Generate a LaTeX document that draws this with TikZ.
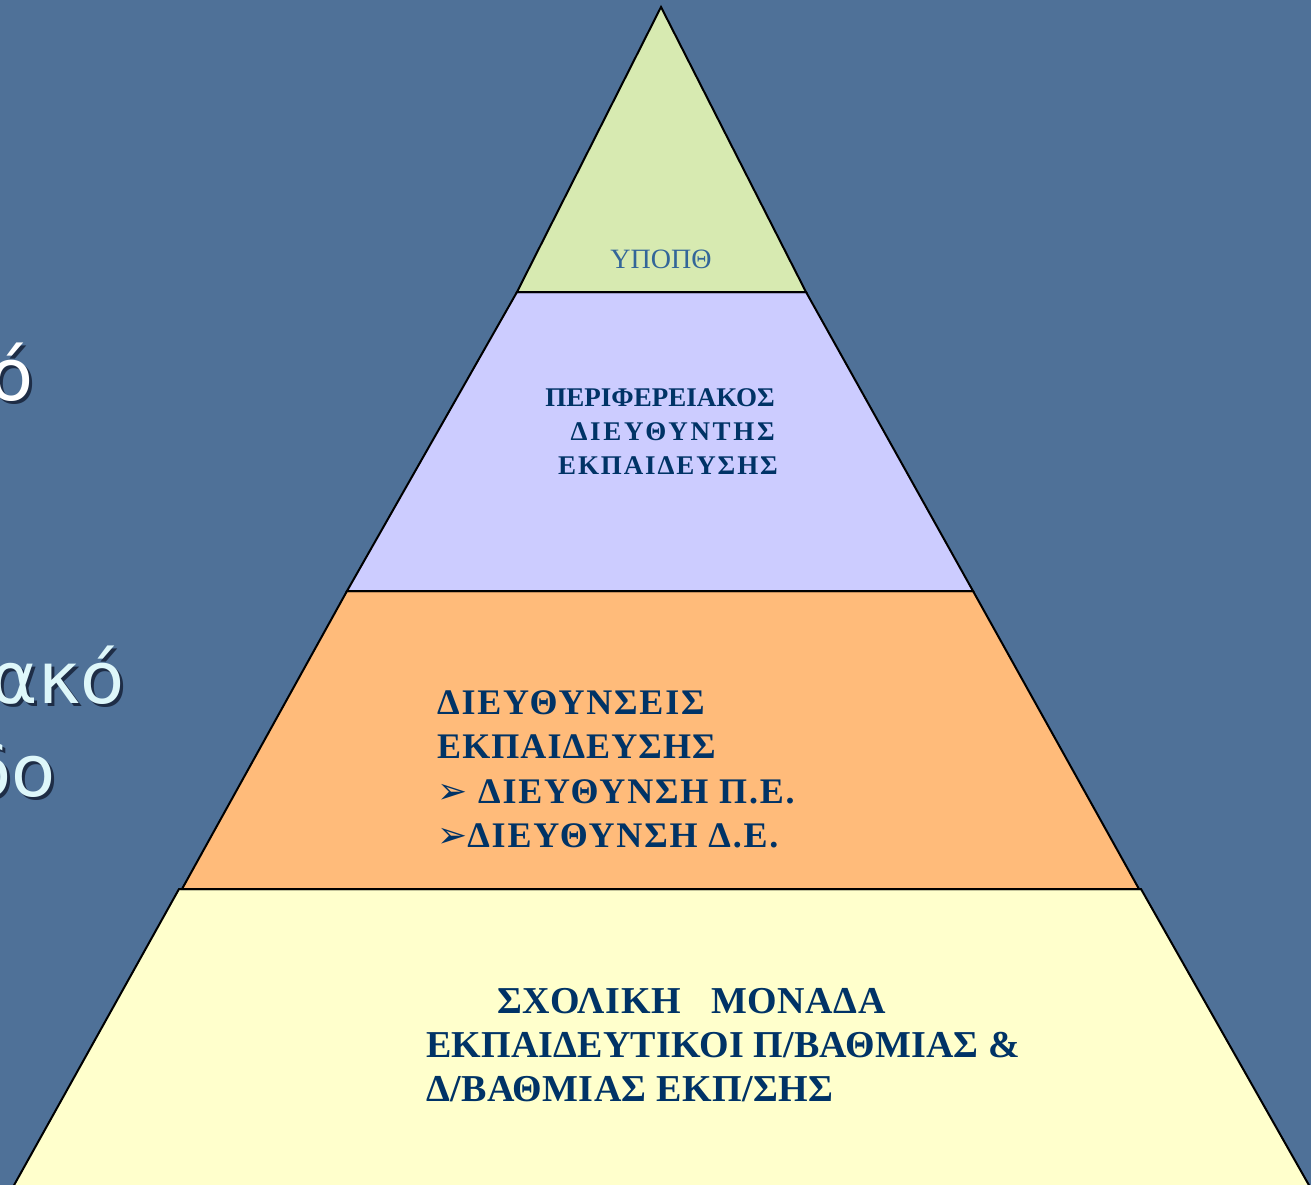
\documentclass[tikz,border=0pt]{standalone}
\usepackage{fontspec}
\setmainfont{Liberation Serif}
\newfontfamily\symfont{DejaVu Sans}
\newfontfamily\leftfont{DejaVu Sans}
\definecolor{bg}{RGB}{79,113,152}
\definecolor{lgreen}{RGB}{215,234,177}
\definecolor{lavender}{RGB}{204,204,255}
\definecolor{lorange}{RGB}{255,187,122}
\definecolor{lyellow}{RGB}{255,255,204}
\definecolor{navy}{RGB}{0,51,102}
\definecolor{midblue}{RGB}{51,102,153}
\definecolor{paleCyan}{RGB}{222,247,250}
\definecolor{shadowc}{RGB}{30,45,70}
\tikzset{
  layer/.style={draw=black, line width=2pt, line join=miter},
  lbl/.style 2 args={inner sep=0pt, text=navy, font=\bfseries\fontsize{#1}{#1}\selectfont\addfontfeature{LetterSpace=#2}},
  sidetxt/.style={inner sep=0pt, anchor=base east, font=\leftfont\fontsize{72}{72}\selectfont},
}
\newcommand{\arrowbullet}{{\symfont\mdseries\fontsize{36}{36}\selectfont ➢}}
\begin{document}
\begin{tikzpicture}[x=1pt,y=-1pt]
\useasboundingbox (0,0) rectangle (1311,1185);
\clip (0,0) rectangle (1311,1185);
\fill[bg] (0,0) rectangle (1311,1185);
% left fragments
\node[sidetxt, text=shadowc] (s1s) at (37,403) {ό};
\node[sidetxt, text=white] (s1) at (34,400) {ό};
\node[sidetxt, text=shadowc] (s2s) at (128,706) {ακό};
\node[sidetxt, text=paleCyan] (s2) at (125,703) {ακό};
\node[sidetxt, text=shadowc] (s3s) at (59,799) {δο};
\node[sidetxt, text=paleCyan] (s3) at (56,796) {δο};
% pyramid corners
\coordinate (apex) at (661,7);
\coordinate (l1) at (517,292); \coordinate (r1) at (806,292);
\coordinate (l2) at (347,591); \coordinate (r2) at (973,591);
\coordinate (l3a) at (182,889); \coordinate (r3a) at (1139,889);
\coordinate (l3b) at (179,889); \coordinate (r3b) at (1141,889);
\coordinate (l4) at (13,1187); \coordinate (r4) at (1310,1187);
\filldraw[layer, fill=lyellow] (l3b) -- (r3b) -- (r4) -- (l4) -- cycle;
\filldraw[layer, fill=lorange] (l2) -- (r2) -- (r3a) -- (l3a) -- cycle;
\filldraw[layer, fill=lavender] (l1) -- (r1) -- (r2) -- (l2) -- cycle;
\filldraw[layer, fill=lgreen] (apex) -- (r1) -- (l1) -- cycle;
% texts
\node[inner sep=0pt, anchor=base, text=midblue, font=\fontsize{28}{28}\selectfont] (t0) at (661,268) {ΥΠΟΠΘ};
\node[lbl={27}{0}, anchor=base east] (t1a) at (775,406) {ΠΕΡΙΦΕΡΕΙΑΚΟΣ};
\node[lbl={27}{10}, anchor=base east] (t1b) at (775,440) {ΔΙΕΥΘΥΝΤΗΣ};
\node[lbl={27}{7}, anchor=base east] (t1c) at (778,474) {ΕΚΠΑΙΔΕΥΣΗΣ};
\node[lbl={36}{5}, anchor=base west] (t2a) at (437,714) {ΔΙΕΥΘΥΝΣΕΙΣ};
\node[lbl={36}{3}, anchor=base west] (t2b) at (437,758) {ΕΚΠΑΙΔΕΥΣΗΣ};
\node[lbl={36}{5}, anchor=base west] (t2c) at (437,803) {\arrowbullet\ ΔΙΕΥΘΥΝΣΗ Π.Ε.};
\node[lbl={36}{5}, anchor=base west] (t2d) at (437,847) {\arrowbullet ΔΙΕΥΘΥΝΣΗ Δ.Ε.};
\node[lbl={38}{1.5}, anchor=base west] (t3a) at (497,1013) {ΣΧΟΛΙΚΗ \ \ ΜΟΝΑΔΑ};
\node[lbl={38}{0.5}, anchor=base west] (t3b) at (426,1057) {ΕΚΠΑΙΔΕΥΤΙΚΟΙ Π/ΒΑΘΜΙΑΣ \&};
\node[lbl={38}{1}, anchor=base west] (t3c) at (426,1101) {Δ/ΒΑΘΜΙΑΣ ΕΚΠ/ΣΗΣ};
\end{tikzpicture}
\end{document}
